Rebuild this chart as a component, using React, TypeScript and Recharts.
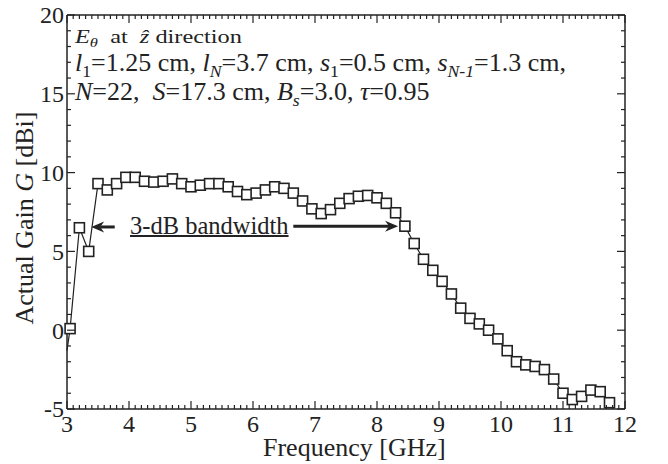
import { LineChart, Line, XAxis, YAxis, ReferenceLine } from 'recharts';

// frequency points [GHz]; the first one only carries the line down to the axis
const freqGHz = [
  3.0, 3.05, 3.2, 3.35, 3.5, 3.65, 3.8, 3.95, 4.1, 4.25, 4.4,
  4.55, 4.7, 4.85, 5.0, 5.15, 5.3, 5.45, 5.6, 5.75, 5.9,
  6.05, 6.2, 6.35, 6.5, 6.65, 6.8, 6.95, 7.1, 7.25, 7.4,
  7.55, 7.7, 7.85, 8.0, 8.15, 8.3, 8.45, 8.6, 8.75, 8.9,
  9.05, 9.2, 9.35, 9.5, 9.65, 9.8, 9.95, 10.1, 10.25, 10.4,
  10.55, 10.7, 10.85, 11.0, 11.15, 11.3, 11.45, 11.6, 11.75,
];

// actual gain G [dBi]
const gainDBi = [
  -1.3,
  0.1, 6.5, 5.0, 9.3, 8.9, 9.3, 9.7, 9.7, 9.45, 9.4,
  9.45, 9.6, 9.3, 9.1, 9.2, 9.3, 9.3, 9.1, 8.8, 8.6,
  8.7, 8.9, 9.1, 9.0, 8.7, 8.2, 7.7, 7.4, 7.65, 8.05,
  8.35, 8.5, 8.55, 8.4, 8.05, 7.45, 6.6, 5.5, 4.5, 3.8,
  3.1, 2.3, 1.4, 0.75, 0.4, 0.0, -0.55, -1.3, -2.0, -2.2,
  -2.3, -2.5, -3.1, -4.0, -4.4, -4.2, -3.8, -3.9, -4.6,
];

const xMajorTicks = [3, 4, 5, 6, 7, 8, 9, 10, 11, 12];
const yMajorTicks = [-5, 0, 5, 10, 15, 20];

// 3-dB bandwidth arrows (data units)
const bandArrows = [
  { from: 3.77, to: 3.39, y: 6.55 },
  { from: 6.65, to: 8.34, y: 6.6 },
];

const data = freqGHz.map((f, i) => ({ f, g: gainDBi[i] }));

const xMinor: number[] = [];
for (let k = 30; k <= 120; k++) xMinor.push(k / 10);
const yMinor: number[] = [];
for (let k = -5; k <= 20; k++) yMinor.push(k);

const INK = '#222';
const FONT = '"Liberation Serif", "Times New Roman", serif';

const isMajorX = (v: number) => xMajorTicks.some((t) => Math.abs(t - v) < 1e-6);
const isMajorY = (v: number) => yMajorTicks.includes(v);

function BottomTick({ x, y, payload }: any) {
  const major = isMajorX(payload.value);
  return (
    <g>
      <line x1={x} x2={x} y1={y} y2={y - (major ? 8 : 4)} stroke={INK} strokeWidth={1.2} />
      {major && (
        <text x={x} y={y + 23} textAnchor="middle" fontFamily={FONT} fontSize={24} fill={INK}>
          {Math.round(payload.value)}
        </text>
      )}
    </g>
  );
}

function TopTick({ x, y, payload }: any) {
  const major = isMajorX(payload.value);
  return <line x1={x} x2={x} y1={y} y2={y + (major ? 8 : 4)} stroke={INK} strokeWidth={1.2} />;
}

function LeftTick({ x, y, payload }: any) {
  const major = isMajorY(payload.value);
  return (
    <g>
      <line x1={x} x2={x + (major ? 8 : 4)} y1={y} y2={y} stroke={INK} strokeWidth={1.2} />
      {major && (
        <text x={x - 3} y={y} dy="0.35em" textAnchor="end" fontFamily={FONT} fontSize={24} fill={INK}>
          {payload.value}
        </text>
      )}
    </g>
  );
}

function RightTick({ x, y, payload }: any) {
  const major = isMajorY(payload.value);
  return <line x1={x} x2={x - (major ? 8 : 4)} y1={y} y2={y} stroke={INK} strokeWidth={1.2} />;
}

function SquareDot({ cx, cy, index }: any) {
  if (index === 0 || cx == null) return <g key={`d${index}`} />;
  return (
    <rect
      key={`d${index}`}
      x={cx - 5}
      y={cy - 5}
      width={10}
      height={10}
      fill="#fff"
      stroke={INK}
      strokeWidth={1.6}
    />
  );
}

const arrowShape = (props: any) => {
  const { x1, y1, x2, y2 } = props;
  const dir = Math.sign(x2 - x1);
  const L = 13;
  const W = 5.5;
  const N = 9;
  return (
    <g>
      <line x1={x1} y1={y1} x2={x2 - dir * N} y2={y2} stroke={INK} strokeWidth={3} />
      <path
        d={`M${x2},${y2} L${x2 - dir * L},${y2 - W} L${x2 - dir * N},${y2} L${x2 - dir * L},${y2 + W} Z`}
        fill={INK}
      />
    </g>
  );
};

const sub = { fontSize: '0.68em', position: 'relative' as const, top: '0.32em' };

export default function App() {
  return (
    <div style={{ position: 'absolute', left: 0, top: 0, width: 668, height: 464, background: '#fff', color: INK, fontFamily: FONT }}>
      <LineChart width={668} height={464} data={data} margin={{ top: 5, right: 33, bottom: 25, left: 7 }}>
        <XAxis
          xAxisId="bottom"
          dataKey="f"
          type="number"
          domain={[3, 12]}
          ticks={xMinor}
          interval={0}
          height={30}
          tickSize={0}
          tickMargin={0}
          tickLine={false}
          axisLine={{ stroke: INK, strokeWidth: 1.5 }}
          tick={<BottomTick />}
        />
        <XAxis
          xAxisId="top"
          dataKey="f"
          orientation="top"
          type="number"
          domain={[3, 12]}
          ticks={xMinor}
          interval={0}
          height={10}
          tickSize={0}
          tickMargin={0}
          tickLine={false}
          axisLine={{ stroke: INK, strokeWidth: 1.5 }}
          tick={<TopTick />}
        />
        <YAxis
          yAxisId="left"
          type="number"
          domain={[-5, 20]}
          ticks={yMinor}
          interval={0}
          width={60}
          tickSize={0}
          tickMargin={0}
          tickLine={false}
          axisLine={{ stroke: INK, strokeWidth: 1.5 }}
          tick={<LeftTick />}
        />
        <YAxis
          yAxisId="right"
          dataKey="g"
          orientation="right"
          type="number"
          domain={[-5, 20]}
          ticks={yMinor}
          interval={0}
          width={10}
          tickSize={0}
          tickMargin={0}
          tickLine={false}
          axisLine={{ stroke: INK, strokeWidth: 1.5 }}
          tick={<RightTick />}
        />
        <Line
          xAxisId="bottom"
          yAxisId="left"
          dataKey="g"
          type="linear"
          stroke={INK}
          strokeWidth={1.2}
          dot={SquareDot}
          activeDot={false}
          isAnimationActive={false}
        />
        {bandArrows.map((a, i) => (
          <ReferenceLine
            key={i}
            xAxisId="bottom"
            yAxisId="left"
            segment={[{ x: a.from, y: a.y }, { x: a.to, y: a.y }]}
            shape={arrowShape}
          />
        ))}
      </LineChart>

      {/* axis titles */}
      <div style={{ position: 'absolute', left: 263, top: 435, fontSize: 26, lineHeight: 1, whiteSpace: 'nowrap' }}>
        Frequency [GHz]
      </div>
      <div
        style={{
          position: 'absolute',
          left: 25,
          top: 218,
          fontSize: 26,
          lineHeight: 1,
          whiteSpace: 'nowrap',
          transform: 'translate(-50%, -50%) rotate(-90deg)',
        }}
      >
        Actual Gain <i>G</i> [dBi]
      </div>

      {/* parameter notes */}
      <div style={{ position: 'absolute', left: 75, top: 27, fontSize: 19, lineHeight: 1, whiteSpace: 'nowrap', transform: 'scaleX(1.28)', transformOrigin: 'left' }}>
        <i>E</i>
        <span style={sub}>
          <i>θ</i>
        </span>
        &nbsp; at &nbsp;<i>ẑ</i> direction
      </div>
      <div style={{ position: 'absolute', left: 75, top: 50, fontSize: 26, lineHeight: 1, whiteSpace: 'nowrap' }}>
        <i>l</i>
        <span style={sub}>1</span>=1.25 cm, <i>l</i>
        <span style={sub}>
          <i>N</i>
        </span>
        =3.7 cm, <i>s</i>
        <span style={sub}>1</span>=0.5 cm, <i>s</i>
        <span style={sub}>
          <i>N-1</i>
        </span>
        =1.3 cm,
      </div>
      <div style={{ position: 'absolute', left: 75, top: 79, fontSize: 26, lineHeight: 1, whiteSpace: 'nowrap' }}>
        <i>N</i>=22,&nbsp; <i>S</i>=17.3 cm, <i>B</i>
        <span style={sub}>
          <i>s</i>
        </span>
        =3.0, <i>τ</i>=0.95
      </div>

      {/* bandwidth label */}
      <div style={{ position: 'absolute', left: 130, top: 214, fontSize: 24.5, lineHeight: 1, whiteSpace: 'nowrap', textDecoration: 'underline', textDecorationThickness: 1.5 }}>
        3-dB bandwidth
      </div>
    </div>
  );
}
